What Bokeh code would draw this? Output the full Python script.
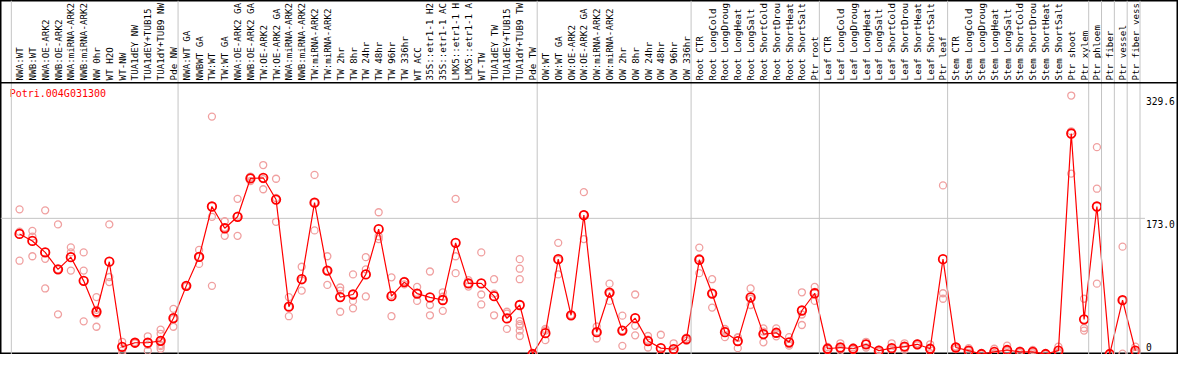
import math
from bokeh.plotting import figure
from bokeh.models import Range1d, Span
from bokeh.core.properties import value
from bokeh.embed import file_html
from bokeh.resources import INLINE

# ---------------- data ----------------
gene = "Potri.004G031300"

# category labels as they are visible in the header (14 characters at most)
categories = [
    "NWA:WT", "NWB:WT", "NWA:OE-ARK2", "NWB:OE-ARK2", "NWA:miRNA-ARK2", "NWB:miRNA-ARK2",
    "NW 0hr", "WT H2O", "WT-NW", "TUA1dEY NW", "TUA1dEY+TUB15", "TUA1dY+TUB9 NW", "Pde NW",
    "NWA:WT GA", "NWBWT GA", "TW:WT", "TW:WT GA", "NWA:OE-ARK2 GA", "NWB:OE-ARK2 GA",
    "TW:OE-ARK2", "TW:OE-ARK2 GA", "NWA:miRNA-ARK2", "NWB:miRNA-ARK2", "TW:miRNA-ARK2",
    "TW:miRNA-ARK2", "TW 2hr", "TW 8hr", "TW 24hr", "TW 48hr", "TW 96hr", "TW 336hr",
    "WT ACC", "35S::etr1-1 H2", "35S::etr1-1 AC", "LMX5::etr1-1 H", "LMX5::etr1-1 A",
    "WT-TW", "TUA1dEY TW", "TUA1dEY+TUB15", "TUA1dY+TUB9 TW", "Pde TW",
    "OW:WT", "OW:WT GA", "OW:OE-ARK2", "OW:OE-ARK2 GA", "OW:miRNA-ARK2", "OW:miRNA-ARK2",
    "OW 2hr", "OW 8hr", "OW 24hr", "OW 48hr", "OW 96hr", "OW 336hr",
    "Root CTR", "Root LongCold", "Root LongDroug", "Root LongHeat", "Root LongSalt",
    "Root ShortCold", "Root ShortDrou", "Root ShortHeat", "Root ShortSalt", "Ptr root",
    "Leaf CTR", "Leaf LongCold", "Leaf LongDroug", "Leaf LongHeat", "Leaf LongSalt",
    "Leaf ShortCold", "Leaf ShortDrou", "Leaf ShortHeat", "Leaf ShortSalt", "Ptr leaf",
    "Stem CTR", "Stem LongCold", "Stem LongDroug", "Stem LongHeat", "Stem LongSalt",
    "Stem ShortCold", "Stem ShortDrou", "Stem ShortHeat", "Stem ShortSalt", "Ptr shoot",
    "Ptr xylem", "Ptr phloem", "Ptr fiber", "Ptr vessel", "Ptr fiber vess",
]

means = [
    153.1, 144.2, 129.6, 108.0, 123.5, 93.3, 53.9, 117.7, 9.2, 14.4, 14.4, 16.8, 45.7,
    86.9, 123.8, 188.1, 160.4, 175.0, 223.9, 224.7, 197.0, 60.4, 95.4, 193.0, 106.4,
    72.6, 75.9, 101.5, 159.2, 73.8, 91.7, 77.1, 72.2, 68.9, 141.8, 90.0, 90.0, 73.8,
    45.4, 62.5, 0.0,
    26.6, 121.0, 49.4, 177.1, 27.8, 78.3, 29.9, 45.7, 16.5, 7.5, 6.3, 18.9,
    120.2, 77.1, 27.8, 16.5, 72.2, 25.4, 27.1, 14.9, 55.5, 77.5,
    6.7, 8.3, 6.7, 12.4, 4.3, 7.5, 9.5, 12.4, 6.7, 121.0,
    8.3, 4.3, 0.0, 2.7, 5.1, 2.7, 2.7, 0.0, 4.3, 281.2,
    44.2, 188.1, 0.0, 68.6, 4.3,
]

replicates = [
    [184.5, 155.9, 119.0], [157.1, 149.8, 124.7], [183.2, 121.4, 83.6],
    [165.3, 108.0, 50.6], [136.0, 129.6, 106.4], [129.6, 106.4, 41.7],
    [72.6, 56.4, 50.6, 34.8], [165.3, 98.2, 91.7], [15.6, 4.3, 0.5],
    [14.4, 13.5, 15.2], [22.6, 11.6, 4.3], [31.1, 25.8, 15.6, 11.6, 6.7, 10.0],
    [57.6, 44.8, 34.8],
    [86.0, 87.5, 87.2], [132.7, 123.8, 114.9], [302.8, 175.0, 86.9],
    [169.3, 161.2, 150.7], [197.9, 176.4, 150.7], [226.3, 224.8, 220.6],
    [241.0, 223.0, 210.1], [223.5, 199.0, 168.6], [72.6, 60.4, 48.2],
    [111.3, 94.0, 80.8], [228.4, 193.0, 157.6], [124.7, 106.4, 88.1],
    [84.8, 80.8, 53.9], [101.5, 67.7, 58.3], [123.5, 108.0, 73.4],
    [180.8, 150.2, 146.6], [97.8, 75.4, 48.2], [93.0, 93.3, 88.8],
    [85.6, 78.0, 67.7], [105.2, 62.5, 49.4], [78.7, 73.0, 55.1],
    [197.9, 124.7, 103.1], [94.2, 90.0, 86.0], [129.6, 75.9, 63.2],
    [95.4, 77.0, 49.4], [53.9, 51.6, 32.0],
    [121.0, 108.8, 95.4, 42.0, 38.0, 36.0, 29.9, 23.0], [0.0, 0.0, 0.0],
    [32.0, 30.0, 17.7], [141.8, 120.0, 101.5], [50.0, 49.4, 48.8],
    [206.4, 178.0, 146.6], [35.1, 28.5, 19.8], [89.7, 77.5, 67.7],
    [48.9, 30.4, 10.4], [75.9, 36.0, 23.8], [23.0, 18.2, 8.3],
    [24.6, 0.0, 0.0], [13.7, 4.0, 1.2], [21.0, 18.9, 16.8],
    [135.7, 122.0, 103.1], [95.4, 77.0, 59.2], [32.0, 29.9, 21.5],
    [21.5, 20.5, 7.5], [83.6, 70.5, 62.5], [32.7, 28.6, 14.9],
    [32.7, 26.0, 22.6], [21.5, 12.5, 10.7], [78.7, 50.4, 37.0],
    [85.6, 79.2, 67.7],
    [9.0, 6.7, 4.4], [13.7, 7.0, 4.2], [8.5, 6.7, 4.9], [15.6, 13.3, 8.3],
    [5.5, 4.3, 3.1], [13.7, 6.7, 2.1], [13.7, 9.3, 5.5], [13.7, 12.4, 11.1],
    [12.4, 6.7, 1.0], [215.0, 77.5, 70.5],
    [9.5, 9.0, 6.4], [7.5, 4.0, 1.4], [0.4, 0.0, 0.0], [6.7, 1.0, 0.4],
    [10.7, 4.3, 0.3], [4.3, 2.7, 1.1], [5.1, 2.2, 0.8], [0.2, 0.0, 0.0],
    [9.5, 2.5, 0.9], [329.6, 284.0, 230.0],
    [70.5, 33.2, 29.9], [263.8, 210.8, 89.7], [0.0, 0.0, 0.0],
    [136.9, 68.6, 0.4], [9.5, 3.0, 0.4],
]

y_ticks = [0.0, 173.0, 329.6]
y_tick_labels = ["0", "173.0", "329.6"]
group_starts = [0, 13, 41, 53, 63, 73, 84, 85, 86, 87, 88]

# ---------------- layout constants ----------------
W, H = 1178, 354
REF_W, REF_H = 1194, 370          # reference canvas geometry
STEP = 13.0                        # px per category in reference
X0_PX = 19.3                       # px of first category
ZERO_PX = 369.5                    # px of value 0
UPP = 173.0 / (ZERO_PX - 227.7)    # value units per reference px
HEADER_PX = 86.0                   # bottom of label header
GRID_SHIFT = -0.64
MONO = value("DejaVu Sans Mono")

def px_to_x(px):
    return (px - X0_PX) / STEP

def px_to_y(py):
    return (ZERO_PX - py) * UPP

x_lo, x_hi = px_to_x(0), px_to_x(REF_W)
y_lo, y_hi = px_to_y(REF_H), px_to_y(0)

p = figure(width=W, height=H, x_range=Range1d(x_lo, x_hi), y_range=Range1d(y_lo, y_hi),
           output_backend="svg", toolbar_location=None, x_axis_type=None, y_axis_type=None,
           min_border=0, background_fill_color="white", border_fill_color="white")
p.grid.visible = False
p.outline_line_color = "black"
p.outline_line_width = 2

xs = list(range(len(categories)))

# vertical group separators
for b in group_starts:
    p.add_layout(Span(location=b + GRID_SHIFT, dimension="height",
                      line_color="#c4c4c4", line_width=1))

# horizontal grid line at middle tick
p.segment(x0=[x_lo], x1=[px_to_x(1160)], y0=[y_ticks[1]], y1=[y_ticks[1]],
          line_color="#c4c4c4", line_width=1)

# header separator
p.add_layout(Span(location=px_to_y(HEADER_PX), dimension="width",
                  line_color="black", line_width=1.5))

# category labels (rotated)
p.text(x=xs, y=[px_to_y(83.5)] * len(xs), text=categories, angle=math.pi / 2,
       text_align="left", text_baseline="middle", text_font=MONO,
       text_font_size="9.2px", text_color="black")

# replicates
rx, ry = [], []
for i, reps in enumerate(replicates):
    for v in reps:
        rx.append(i)
        ry.append(v)
p.scatter(rx, ry, marker="circle", size=7, fill_color=None,
          line_color="#f0a0a0", line_width=1.3)

# mean line + markers
p.line(xs, means, line_color="red", line_width=1.2)
p.scatter(xs, means, marker="circle", size=8.5, fill_color=None,
          line_color="red", line_width=1.8)

# gene name
p.text(x=[px_to_x(9.3)], y=[px_to_y(91.5)], text=[gene], text_align="left",
       text_baseline="top", text_font=MONO, text_font_size="10px", text_color="red")

# y tick labels (inside the frame at right)
tx = px_to_x(1161)
for t, lab in zip(y_ticks, y_tick_labels):
    if t == min(y_ticks):
        p.text(x=[tx], y=[t + 3.0 * UPP], text=[lab], text_align="left",
               text_baseline="bottom", text_font=MONO,
               text_font_size="9.6px", text_color="black")
    else:
        p.text(x=[tx], y=[t - 1.5 * UPP], text=[lab], text_align="left",
               text_baseline="top", text_font=MONO,
               text_font_size="9.6px", text_color="black")

open("out.html", "w").write(file_html(p, INLINE))
